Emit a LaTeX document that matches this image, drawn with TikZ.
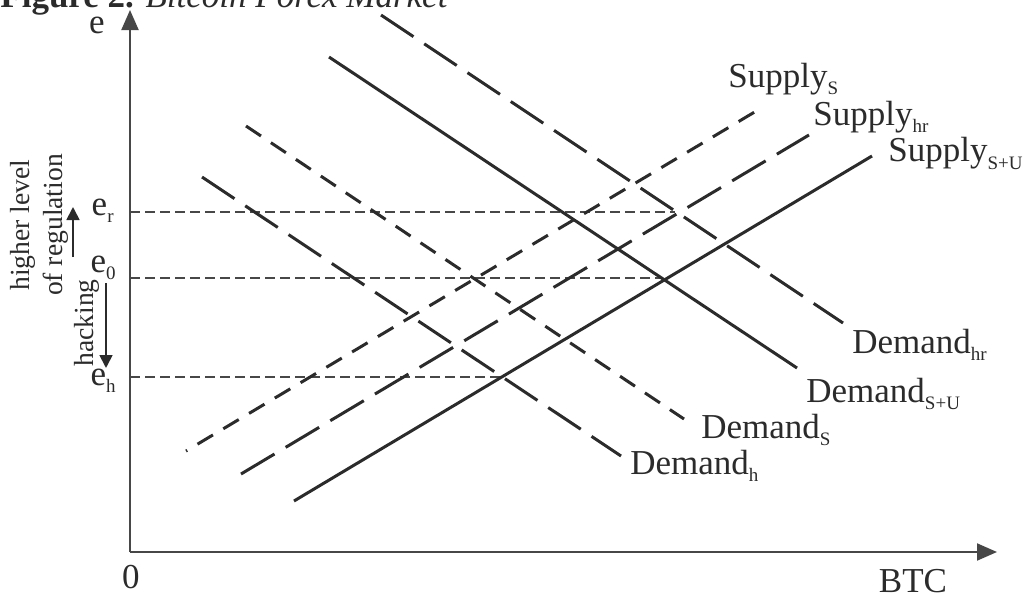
\documentclass[tikz,border=0pt]{standalone}
\usepackage{fontspec}
\setmainfont{Liberation Serif}
\usetikzlibrary{arrows.meta}
\definecolor{ink}{HTML}{2B2B2B}
\definecolor{axisgray}{HTML}{474747}
\newcommand{\lbsub}[1]{\raisebox{-3.5pt}{\fontsize{9.5}{9.5}\selectfont #1}}

\begin{document}
\begin{tikzpicture}[x=0.5pt, y=-0.5pt,
  curve/.style={ink, line width=1.5pt},
  shortdash/.style={curve, dash pattern=on 9pt off 6pt},
  longdash/.style={curve, dash pattern=on 19.5pt off 6.5pt},
  guide/.style={axisgray, line width=0.75pt, dash pattern=on 5pt off 2.5pt},
  axis/.style={axisgray, line width=1pt, -{Triangle[length=10pt, width=8.5pt]}},
  small arrow/.style={ink, line width=0.9pt, -{Triangle[length=6.5pt, width=6.5pt]}},
  lbl/.style={inner sep=0pt, text=ink, font=\fontsize{17.5}{20}\selectfont},
  side/.style={inner sep=0pt, text=ink, font=\fontsize{13.8}{16.5}\selectfont, rotate=90, align=center}]
  \useasboundingbox (0,0) rectangle (1030,594);
  % Title (cut at the top)
  \node (title) [lbl, anchor=base west] at (0,7) {\textbf{Figure 2.} \textit{Bitcoin Forex Market}};
  % Axes
  \coordinate (O) at (130,552);
  \coordinate (ytop) at (130,10);
  \coordinate (xend) at (997,552);
  \draw[axis] (O) -- (ytop);
  \draw[axis] (O) -- (xend);
  \node (e) [lbl, anchor=base] at (97,33) {e};
  \node (zero) [lbl, anchor=base] at (131,588) {0};
  \node (btc) [lbl, anchor=base] at (913,592) {BTC};
  % Curve end points
  \coordinate (dhr1) at (381,15);  \coordinate (dhr2) at (843,323);
  \coordinate (dsu1) at (329,57);  \coordinate (dsu2) at (797,368);
  \coordinate (ds1) at (246,126);  \coordinate (ds2) at (684,419);
  \coordinate (dh1) at (202,177);  \coordinate (dh2) at (621,456);
  \coordinate (ss1) at (186,451);  \coordinate (ss2) at (763,107);
  \coordinate (shr1) at (241,474); \coordinate (shr2) at (809,135);
  \coordinate (ssu1) at (294,501); \coordinate (ssu2) at (872,156);
  % Equilibria
  \coordinate (Er) at (675,212);
  \coordinate (E0) at (662,278);
  \coordinate (Eh) at (501,377);
  \draw[guide] (O |- Er) -- (Er);
  \draw[guide] (O |- E0) -- (E0);
  \draw[guide] (O |- Eh) -- (Eh);
  % Demand and supply
  \draw[longdash] (dhr1) -- (dhr2);
  \draw[curve] (dsu1) -- (dsu2);
  \draw[shortdash] (ds1) -- (ds2);
  \draw[longdash] (dh1) -- (dh2);
  \draw[shortdash, dash phase=8.3pt] (ss1) -- (ss2);
  \draw[longdash] (shr1) -- (shr2);
  \draw[curve] (ssu1) -- (ssu2);
  % Curve labels
  \node (lss) [lbl, anchor=base west] at (728,87) {Supply\lbsub{S}};
  \node (lshr) [lbl, anchor=base west] at (813,126) {Supply\lbsub{hr}};
  \node (lssu) [lbl, anchor=base west] at (888,162) {Supply\lbsub{S+U}};
  \node (ldhr) [lbl, anchor=base west] at (852,353) {Demand\lbsub{hr}};
  \node (ldsu) [lbl, anchor=base west] at (806,402) {Demand\lbsub{S+U}};
  \node (lds) [lbl, anchor=base west] at (701,438) {Demand\lbsub{S}};
  \node (ldh) [lbl, anchor=base west] at (630,474) {Demand\lbsub{h}};
  % Price levels
  \node (er) [lbl, anchor=base east] at (114,215) {e\lbsub{r}};
  \node (e0) [lbl, anchor=base east] at (116,272) {e\lbsub{0}};
  \node (eh) [lbl, anchor=base east] at (116,385) {e\lbsub{h}};
  % Shifts
  \node (reg) [side] at (39,225) {higher level\\of regulation};
  \node (hack) [side] at (87,323) {hacking};
  \coordinate (up1) at (73,257);   \coordinate (up2) at (73,207);
  \coordinate (down1) at (106,283); \coordinate (down2) at (106,368);
  \draw[small arrow] (up1) -- (up2);
  \draw[small arrow] (down1) -- (down2);
\end{tikzpicture}
\end{document}
